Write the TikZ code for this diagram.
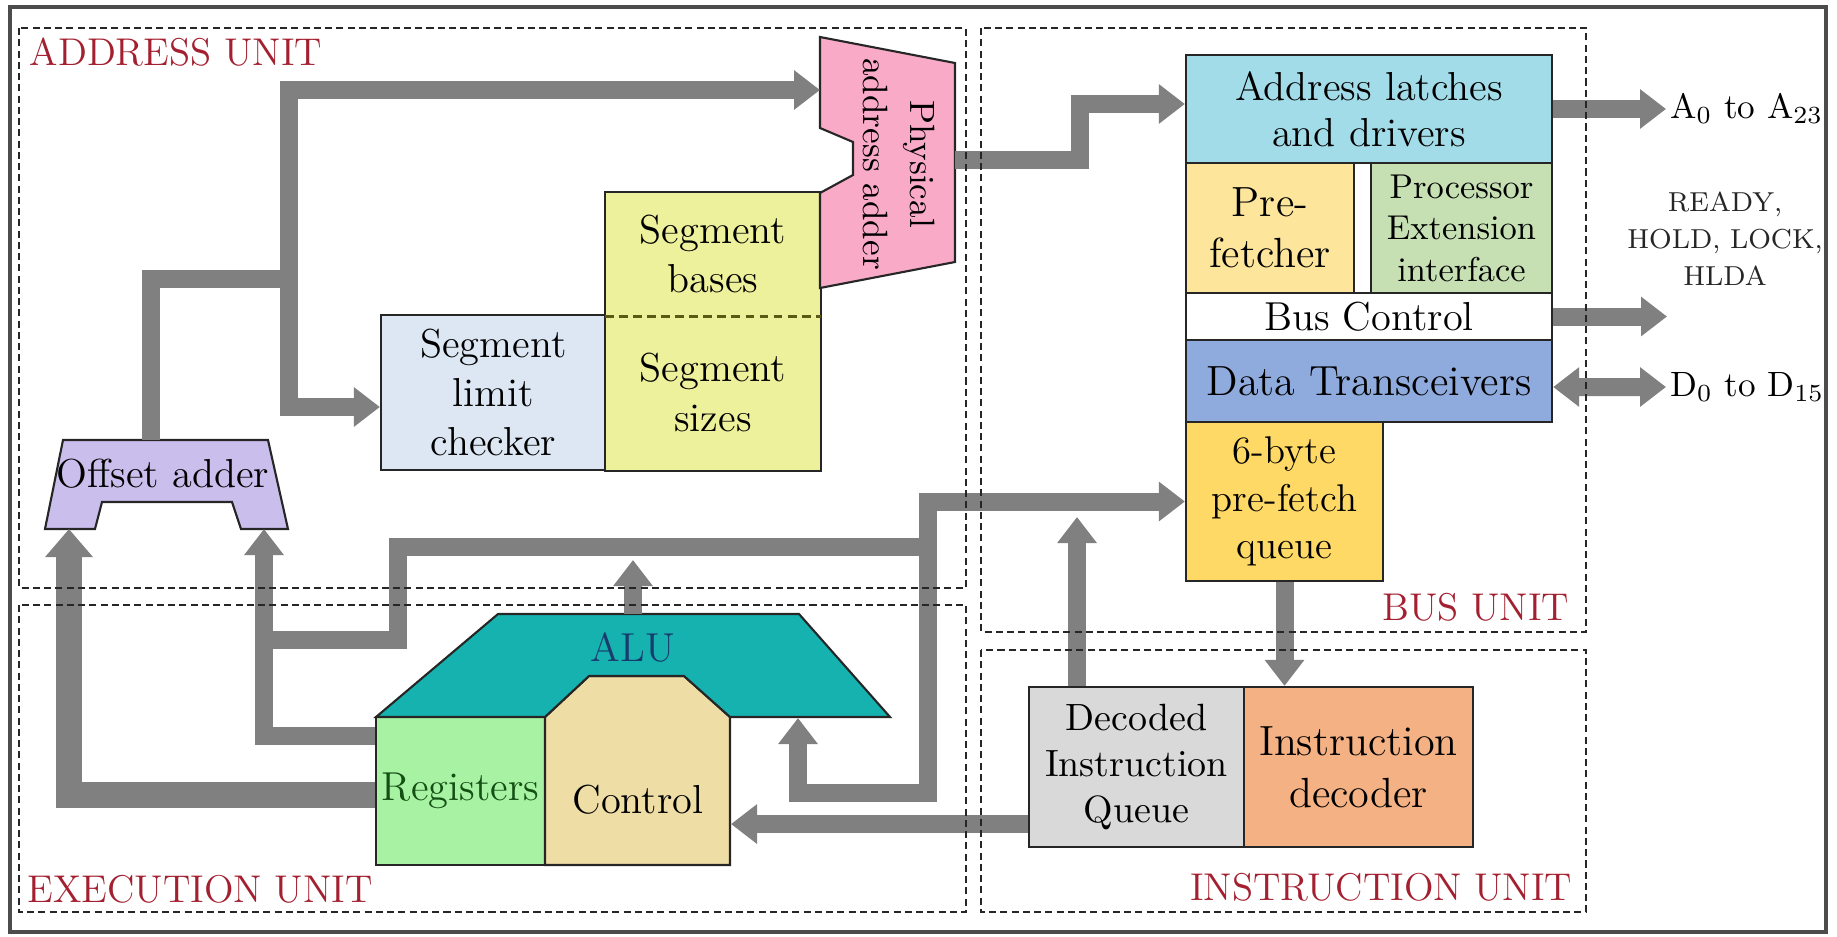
\documentclass[tikz,border=0pt]{standalone}
\usepackage{fontspec}
\usetikzlibrary{arrows.meta}

\definecolor{unitred}{RGB}{163,32,48}
\definecolor{busgray}{RGB}{128,128,128}
\definecolor{padpink}{RGB}{249,170,198}
\definecolor{segyellow}{RGB}{238,241,156}
\definecolor{segline}{RGB}{90,90,20}
\definecolor{limblue}{RGB}{221,231,243}
\definecolor{offlav}{RGB}{201,190,236}
\definecolor{aluteal}{RGB}{22,178,176}
\definecolor{alutext}{RGB}{25,60,110}
\definecolor{reggreen}{RGB}{168,242,164}
\definecolor{regtext}{RGB}{20,80,20}
\definecolor{ctrltan}{RGB}{238,222,166}
\definecolor{latchcyan}{RGB}{163,220,233}
\definecolor{prefyellow}{RGB}{253,230,156}
\definecolor{extgreen}{RGB}{198,224,180}
\definecolor{xcvrblue}{RGB}{143,170,220}
\definecolor{queuegold}{RGB}{255,217,102}
\definecolor{diqgray}{RGB}{217,217,217}
\definecolor{decorange}{RGB}{244,177,131}

\begin{document}
\begin{tikzpicture}[x=0.01cm,y=-0.01cm,
  blk/.style={draw=black!85, line width=0.6pt, inner sep=0pt, align=center, font=\fontsize{11.5}{14}\selectfont},
  outline/.style={draw=black!85, line width=0.6pt},
  txt/.style={inner sep=0pt, align=center, font=\fontsize{11.5}{14}\selectfont},
  bus/.style={draw=busgray, line width=0.18cm},
  busarrow/.style={bus, -{Triangle[width=0.38cm,length=0.26cm]}},
  busboth/.style={bus, {Triangle[width=0.38cm,length=0.26cm]}-{Triangle[width=0.38cm,length=0.26cm]}},
  widearrow/.style={draw=busgray, line width=0.26cm, -{Triangle[width=0.46cm,length=0.28cm]}},
  unitbox/.style={draw=black!85, line width=0.7pt, dash pattern=on 2pt off 1.2pt},
  unitlabel/.style={text=unitred, inner sep=0pt, font=\fontsize{11}{13}\selectfont},
  pinlabel/.style={inner sep=1pt, anchor=west, font=\fontsize{10}{12}\selectfont}]
\useasboundingbox (0,0) rectangle (1837,936);
\draw[draw=black!70, line width=0.9pt] (10,7) rectangle (1826,932);

% address unit
\draw[outline, fill=offlav] (63,440) -- (268,440) -- (288,529) -- (241,529) -- (232,502) -- (102,502) -- (95,529) -- (45,529) -- cycle;
\node[txt] (oadd) at (163,474) {Offset adder};
\coordinate (oatop) at (151,440);
\coordinate (oaleft) at (69,529);
\coordinate (oaright) at (264,529);

\node[blk, fill=limblue, minimum width=2.25cm, minimum height=1.55cm] (slc) at (493.5,392.5) {Segment\\limit\\checker};
\node[blk, draw=none, fill=segyellow, minimum width=2.14cm, minimum height=1.22cm] (segb) at (713,254) {Segment\\bases};
\node[blk, draw=none, fill=segyellow, minimum width=2.14cm, minimum height=1.55cm] (segs) at (713,392.5) {Segment\\sizes};
\draw[outline] (segb.north west) rectangle (segs.south east);
\draw[draw=segline, line width=0.8pt, dash pattern=on 2.5pt off 1.5pt] (segb.south west) -- (segb.south east);

\draw[outline, fill=padpink] (820,37) -- (955,63) -- (955,262) -- (820,288) -- (820,193) -- (853,175) -- (853,142) -- (820,128) -- cycle;
\node[txt, rotate=-90, font=\fontsize{10}{13.5}\selectfont] (pa) at (899,164) {Physical\\address adder};
\coordinate (pain) at (820,90);
\coordinate (paout) at (955,160);

% execution unit
\node[blk, fill=reggreen, text=regtext, minimum width=1.69cm, minimum height=1.48cm] (reg) at (460.5,791) {Registers};
\draw[outline, fill=ctrltan] (545,717) -- (589,676) -- (684,676) -- (730,717) -- (730,865) -- (545,865) -- cycle;
\node[txt] (ctrl) at (638,800) {Control};
\draw[outline, fill=aluteal] (376,717) -- (498,614) -- (799,614) -- (890,717) -- (730,717) -- (684,676) -- (589,676) -- (545,717) -- cycle;
\node[txt, text=alutext] (alu) at (633,647) {ALU};
\coordinate (alutop) at (633,614);
\coordinate (aluout) at (633,560);
\coordinate (alubot) at (798,718);
\coordinate (ctrlin) at (731,824);

% bus unit
\node[blk, fill=latchcyan, minimum width=3.66cm, minimum height=1.08cm, font=\fontsize{11.5}{13}\selectfont] (al) at (1369,109) {Address latches\\and drivers};
\node[blk, fill=prefyellow, minimum width=1.68cm, minimum height=1.30cm, font=\fontsize{12}{14.5}\selectfont] (pf) at (1270,228) {Pre-\\fetcher};
\node[blk, fill=extgreen, minimum width=1.81cm, minimum height=1.30cm, font=\fontsize{9.8}{11.8}\selectfont] (pei) at (1461.5,228) {Processor\\Extension\\interface};
\node[blk, fill=white, minimum width=3.66cm, minimum height=0.47cm] (bc) at (1369,316.5) {Bus Control};
\node[blk, fill=xcvrblue, minimum width=3.66cm, minimum height=0.82cm, font=\fontsize{12}{14}\selectfont] (dt) at (1369,381) {Data Transceivers};
\node[blk, fill=queuegold, minimum width=1.97cm, minimum height=1.59cm, font=\fontsize{11}{13.5}\selectfont] (pq) at (1284.5,501.5) {6-byte\\pre-fetch\\queue};

\node[pinlabel] (aname) at (1666,109) {A\textsubscript{0} to A\textsubscript{23}};
\node[txt, font=\fontsize{7.8}{10.5}\selectfont, text=black!85] (sigs) at (1725,239) {READY,\\HOLD, LOCK,\\HLDA};
\node[pinlabel] (dname) at (1666,387) {D\textsubscript{0} to D\textsubscript{15}};
\coordinate (ctlend) at (1667,316.5);

% instruction unit
\node[blk, fill=diqgray, minimum width=2.15cm, minimum height=1.60cm, font=\fontsize{10.8}{13.2}\selectfont] (diq) at (1136.5,767) {Decoded\\Instruction\\Queue};
\node[blk, fill=decorange, minimum width=2.29cm, minimum height=1.60cm, font=\fontsize{12}{14.7}\selectfont] (idec) at (1358.5,767) {Instruction\\decoder};
\coordinate (diqup) at (1077,517);

% buses
\coordinate (j1) at (289,279);
\draw[bus] (oatop) |- (j1);
\draw[busarrow] (j1) |- (pain);
\draw[busarrow] (j1) |- ([yshift=-0.145cm]slc.west);
\coordinate (j2) at (1080,160);
\draw[busarrow] (paout) -- (j2) |- ([yshift=0.05cm]al.west);
\draw[busarrow] (al.east) -- (aname.west);
\draw[busarrow] (bc.east) -- (ctlend);
\draw[busboth] ([yshift=-0.06cm]dt.east) -- (dname.west);
\draw[busarrow] (pq.south) -- (pq.south |- idec.north);
\draw[busarrow] (diq.north -| diqup) -- (diqup);
\coordinate (j3) at (928,501.5);
\coordinate (j5) at (798,793);
\draw[busboth] (alubot) -- (j5) -| (j3) -- (pq.west);
\coordinate (j4) at (928,547);
\coordinate (j6) at (398,547);
\coordinate (j7) at (264,640);
\draw[bus] (j4) -- (j6) |- (j7);
\draw[busarrow] (alutop) -- (aluout);
\draw[widearrow] ([yshift=-0.04cm]reg.west) -| (oaleft);
\draw[busarrow] ([yshift=0.55cm]reg.west) -| (oaright);
\draw[busarrow] ([yshift=-0.57cm]diq.west) -- ([yshift=-0.57cm]diq.west -| ctrlin);

% unit frames
\draw[unitbox] (19,28) rectangle (966,588);
\draw[unitbox] (981,28) rectangle (1586,632);
\draw[unitbox] (19,605) rectangle (966,912);
\draw[unitbox] (981,650) rectangle (1586,912);
\node[unitlabel, anchor=base west] (addrlbl) at (29,65) {ADDRESS UNIT};
\node[unitlabel, anchor=base west] (execlbl) at (27,902) {EXECUTION UNIT};
\node[unitlabel, anchor=base east] (buslbl) at (1570,620) {BUS UNIT};
\node[unitlabel, anchor=base east] (instlbl) at (1573,900) {INSTRUCTION UNIT};
\end{tikzpicture}
\end{document}
